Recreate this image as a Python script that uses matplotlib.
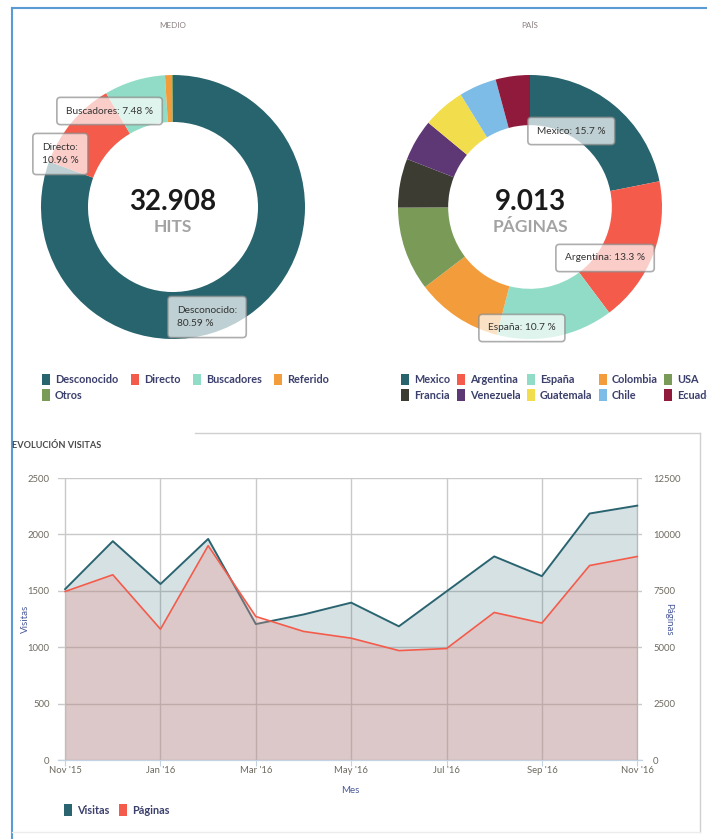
import matplotlib
matplotlib.use("Agg")
from matplotlib import pyplot as plt
from matplotlib.patches import Patch
from matplotlib.lines import Line2D
import numpy as np

# ---- data ----
medio_labels = ["Desconocido", "Directo", "Buscadores", "Referido", "Otros"]
medio_values = [80.59, 10.96, 7.48, 0.85, 0.12]
medio_colors = ["#27646e", "#f45b4b", "#91dcc6", "#f39c3c", "#7a9a58"]
medio_total = "32.908"
medio_unit = "HITS"
medio_tags = ["Desconocido:\n80.59 %", "Directo:\n10.96 %", "Buscadores: 7.48 %"]

pais_labels = ["Mexico", "Argentina", "España", "Colombia", "USA",
               "Francia", "Venezuela", "Guatemala", "Chile", "Ecuador"]
pais_values = [21.9, 17.9, 14.3, 10.6, 10.3, 6.0, 5.1, 5.2, 4.6, 4.2]
pais_colors = ["#27646e", "#f45b4b", "#91dcc6", "#f39c3c", "#7a9a58",
               "#3d3c32", "#5e3775", "#f2dd4c", "#7cbce6", "#8f1a3c"]
pais_total = "9.013"
pais_unit = "PÁGINAS"
pais_tags = ["Mexico: 15.7 %", "Argentina: 13.3 %", "España: 10.7 %"]

meses = ["Nov '15", "Dec '15", "Jan '16", "Feb '16", "Mar '16", "Apr '16", "May '16",
         "Jun '16", "Jul '16", "Aug '16", "Sep '16", "Oct '16", "Nov '16"]
visitas = [1515, 1940, 1560, 1960, 1205, 1290, 1395, 1185, 1495, 1805, 1630, 2185, 2255]
paginas = [7470, 8210, 5800, 9500, 6360, 5700, 5400, 4850, 4940, 6540, 6070, 8620, 9020]

W, H = 707, 839
plt.rcParams['font.family'] = ['Lato', 'DejaVu Sans']
fig = plt.figure(figsize=(W / 100, H / 100), dpi=100)

def fx(px):
    return px / W

def fy(py):
    return 1 - py / H

LEG_TXT = "#3b3f6b"
LEG_KW = dict(frameon=False, handlelength=0.75, handleheight=1.25, handletextpad=0.45,
              borderpad=0, borderaxespad=0, labelcolor=LEG_TXT,
              prop=dict(weight='bold', size=7.8))
R = 132


def donut(cx, cy, vals, cols, inner, total, unit, tags, tag_pos, title):
    ax = fig.add_axes([fx(cx - R), fy(cy + R), 2 * R / W, 2 * R / H])
    ax.pie(vals, colors=cols, startangle=90, counterclock=False, radius=1,
           wedgeprops=dict(width=1 - inner, edgecolor='none'))
    ax.set_xlim(-1, 1)
    ax.set_ylim(-1, 1)
    ax.text(0, 0.04, total, ha='center', va='center', fontsize=20, fontweight='bold',
            color='#1a1a1a')
    ax.text(0, -0.15, unit, ha='center', va='center', fontsize=12.5, fontweight='bold',
            color='#a3a3a3')
    for t, (px, py) in zip(tags, tag_pos):
        ax.text((px - cx) / R, (cy - py) / R, t, ha='left', va='center', fontsize=7.3,
                color='#333333', linespacing=1.7, clip_on=False,
                bbox=dict(boxstyle='round,pad=0.9,rounding_size=0.35', fc='white',
                          ec='#8a8a8a', lw=1.2, alpha=0.7))
    fig.text(fx(cx), fy(26), title, ha='center', va='center', fontsize=5.8,
             color='#8a7f7f')
    return ax


# ---- left donut ----
donut(173, 207, medio_values, medio_colors, 0.644, medio_total, medio_unit,
      medio_tags, [(177, 317), (42, 154), (66, 111)], "MEDIO")
lorder = [0, 4, 1, 2, 3]
fig.legend(handles=[Patch(fc=medio_colors[i], ec='none') for i in lorder],
           labels=[medio_labels[i] for i in lorder],
           ncol=4, loc='upper left', bbox_to_anchor=(fx(42), fy(374)),
           columnspacing=1.15, labelspacing=0.35, **LEG_KW)

# ---- right donut ----
donut(530, 207, pais_values, pais_colors, 0.62, pais_total, pais_unit,
      pais_tags, [(537, 131), (565, 258), (488, 328)], "PAÍS")
order = [0, 5, 1, 6, 2, 7, 3, 8, 4, 9]
fig.legend(handles=[Patch(fc=pais_colors[i], ec='none') for i in order],
           labels=[pais_labels[i] for i in order],
           ncol=5, loc='upper left', bbox_to_anchor=(fx(401), fy(374)),
           columnspacing=0.6, labelspacing=0.35, **LEG_KW)

# ---- line / area chart ----
x = np.arange(len(meses))
ax1 = fig.add_axes([fx(58), fy(760), (642 - 58) / W, (760 - 478) / H])
ax2 = ax1.twinx()
teal = "#2a6470"
red = "#f45b4b"
ax1.fill_between(x, visitas, color=teal, alpha=0.19, lw=0)
ax1.plot(x, visitas, color=teal, lw=1.4)
ax2.fill_between(x, paginas, color="#e9958d", alpha=0.32, lw=0)
ax2.plot(x, paginas, color=red, lw=1.2)

ax1.set_xlim(-0.15, 12.1)
ax1.set_ylim(0, 2500)
ax2.set_ylim(0, 12500)
ax1.set_yticks(np.arange(0, 2501, 500))
ax2.set_yticks(np.arange(0, 12501, 2500))
ax1.set_xticks(x[::2])
ax1.set_xticklabels(meses[::2])
ax1.grid(True, color='#c9c9c9', lw=1)
ax1.set_axisbelow(True)
for a in (ax1, ax2):
    for s in a.spines.values():
        s.set_visible(False)
    a.spines['bottom'].set_visible(True)
    a.spines['bottom'].set_color('#c4d3e3')
tick_kw = dict(labelcolor='#6e6a60', labelsize=6.8)
ax1.tick_params(axis='x', colors='#c4d3e3', length=4, pad=0, **tick_kw)
ax1.tick_params(axis='y', length=0, pad=6, **tick_kw)
ax2.tick_params(axis='y', length=0, pad=8, **tick_kw)
ax1.set_ylabel("Visitas", color='#4a5a9a', fontsize=7)
ax1.yaxis.set_label_coords((30 - 58) / (642 - 58), 0.5)
ax2.set_ylabel("Páginas", color='#4a5a9a', fontsize=7, rotation=270, va='center')
ax2.yaxis.set_label_coords((669 - 58) / (642 - 58), 0.5)
ax1.set_xlabel("Mes", color='#4a5a9a', fontsize=7)
ax1.xaxis.set_label_coords(0.5, -(786 - 760) / (760 - 478))

fig.legend(handles=[Patch(fc=teal, ec='none'), Patch(fc=red, ec='none')],
           labels=["Visitas", "Páginas"], ncol=2, loc='center left',
           bbox_to_anchor=(fx(64), fy(810)), columnspacing=0.9, **LEG_KW)

fig.text(fx(12), fy(445), "EVOLUCIÓN VISITAS", ha='left', va='center', fontsize=6.6,
         fontweight='bold', color='#4a4a4a')

# ---- frame lines ----
blue = "#5b9bd5"
fig.add_artist(Line2D([fx(12), fx(12)], [fy(8), fy(839)], color=blue, lw=1.5))
fig.add_artist(Line2D([fx(12), fx(707)], [fy(8), fy(8)], color=blue, lw=1.5))
grey = "#d0d0d0"
fig.add_artist(Line2D([fx(195), fx(700)], [fy(433), fy(433)], color=grey, lw=1))
fig.add_artist(Line2D([fx(700), fx(700)], [fy(433), fy(832)], color=grey, lw=1))
fig.add_artist(Line2D([fx(12), fx(700)], [fy(832), fy(832)], color='#ececec', lw=1))

fig.savefig("out.png", dpi=100)
